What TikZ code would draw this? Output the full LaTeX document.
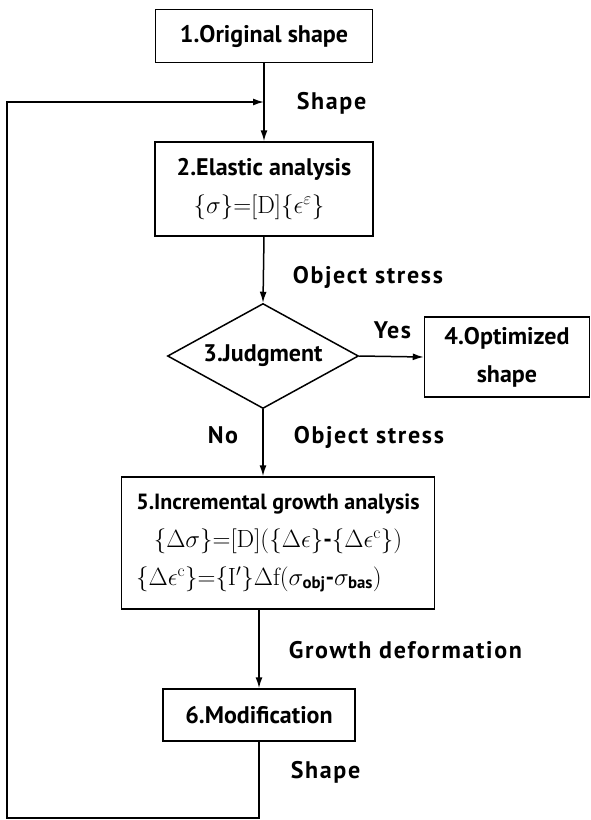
\documentclass[tikz,border=0pt]{standalone}
\usepackage{amsmath}
\usepackage[no-math]{fontspec}
\setmainfont{PT Sans}
\usetikzlibrary{arrows.meta,positioning,shapes.geometric}

\begin{document}
\begin{tikzpicture}[
		x=1pt, y=-1pt,
		line width=1.5pt,
		font=\fontsize{24}{38}\selectfont\bfseries,
		arrow/.style={-{Latex[length=11pt,width=7pt]}},
		block/.style={draw, inner sep=0pt, align=center},
		decision/.style={draw, diamond, aspect=1.8, inner sep=0pt, minimum width=191pt, minimum height=105pt},
		tag/.style={anchor=west, inner sep=0pt, font=\fontsize{24}{38}\selectfont\bfseries\addfontfeatures{LetterSpace=7}},
	]
		\useasboundingbox (0,0) rectangle (591,820);

		\node (orig) [block, minimum width=217pt, minimum height=53pt] at (264,36) {1.Original shape};
		\node (elastic) [block, minimum width=218pt, minimum height=94pt] at (264,189) {2.Elastic analysis\\$\{\sigma\}{=}[\mathrm{D}]\{\epsilon^{\varepsilon}\}$\hspace*{10pt}};
		\node (judge) [decision] at (263,356) {3.Judgment};
		\node (optim) [block, minimum width=165pt, minimum height=80pt] at (507,357) {4.Optimized\\shape};
		\node (growth) [block, minimum width=313pt, minimum height=132pt] at (278,543) {{\fontsize{22}{38}\selectfont 5.Incremental growth analysis}\\$\{\Delta\sigma\}{=}[\mathrm{D}](\{\Delta\epsilon\}\text{-}\{\Delta\epsilon^{\mathrm{c}}\})$\hspace*{30pt}\\$\{\Delta\epsilon^{\mathrm{c}}\}{=}\{\mathrm{I}'\}\Delta\mathrm{f}(\sigma_{\text{obj}}\text{-}\sigma_{\text{bas}})$\hspace*{38pt}};
		\node (modif) [block, minimum width=192pt, minimum height=52pt] at (259,715) {6.Modification};

		\node (shapetop) [tag] at (296,103) {Shape};
		\node (stress1) [tag] at (292,277) {Object stress};
		\node (yes) [tag] at (373,330) {Yes};
		\node (no) [tag] at (207,435) {No};
		\node (stress2) [tag] at (293,437) {Object stress};
		\node (deform) [tag] at (288,650) {Growth deformation};
		\node (shapebot) [tag] at (290,772) {Shape};

		\coordinate (loopbl) at (7,818);
		\coordinate (looptl) at (7,102);
		\coordinate (loopin) at (elastic.north |- looptl);

		\draw[arrow] (orig.south) -- (elastic.north);
		\draw[arrow] (elastic.south) -- (judge.north);
		\draw[arrow] (judge.east) -- (optim.west);
		\draw[arrow] (judge.south) -- (judge.south |- growth.north);
		\draw[arrow] (growth.south -| modif.north) -- (modif.north);
		\draw[arrow] (modif.south) |- (loopbl) -- (looptl) -- (loopin);
	\end{tikzpicture}
\end{document}
